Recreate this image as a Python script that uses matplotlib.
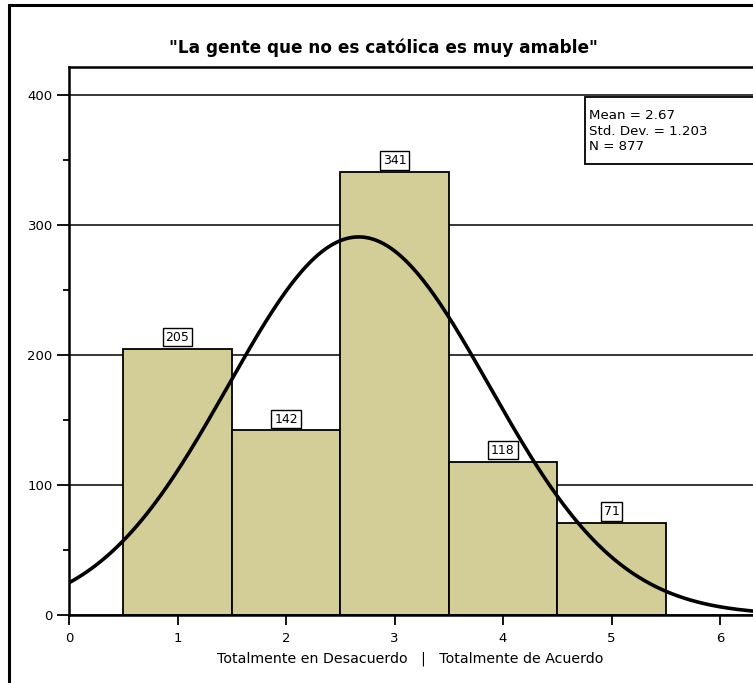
import numpy as np
import matplotlib
matplotlib.use("Agg")
import matplotlib.pyplot as plt
from matplotlib.patches import Rectangle
from matplotlib.ticker import MultipleLocator

categories = [1, 2, 3, 4, 5]
counts = [205, 142, 341, 118, 71]
mean_val = 2.67
std_val = 1.203
n_val = 877
title = '"La gente que no es católica es muy amable"'
xlabel = "Totalmente en Desacuerdo   |   Totalmente de Acuerdo"
stats_lines = [f"Mean = {mean_val}", f"Std. Dev. = {std_val}", f"N = {n_val}"]

plt.rcParams['font.family'] = ['DejaVu Sans']

W, H = 753, 683
fig = plt.figure(figsize=(W / 100, H / 100), dpi=100)

# outer frame
fig.patches.append(Rectangle((9 / W, -0.2), 2.0, 1.2 - 5 / H, transform=fig.transFigure,
                             fill=False, edgecolor='black', linewidth=2.2, zorder=0))

PX_X = 108.5   # pixels per x unit
PX_Y = 1.3     # pixels per y unit
X0, Y0 = 69, 615
ax_left = X0 / W
ax_bottom = 1 - Y0 / H
ax_height = (Y0 - 67) / H
xmax = 6.4
ax_width = xmax * PX_X / W
ax = fig.add_axes([ax_left, ax_bottom, ax_width, ax_height])
ax.set_xlim(0, xmax)
ax.set_ylim(0, (Y0 - 67) / PX_Y)

ax.bar(categories, counts, width=1.0, color='#D3CE98', edgecolor='black', linewidth=1.3, zorder=2)
for c, v in zip(categories, counts):
    ax.annotate(str(v), xy=(c, v), xytext=(0, 3.5), textcoords='offset points',
                ha='center', va='bottom', fontsize=9,
                bbox=dict(boxstyle='square,pad=0.22', facecolor='white', edgecolor='black', linewidth=1.0),
                zorder=4)

xs = np.linspace(0, xmax, 400)
ys = n_val * 1.0 / (std_val * np.sqrt(2 * np.pi)) * np.exp(-0.5 * ((xs - mean_val) / std_val) ** 2)
ax.plot(xs, ys, color='black', linewidth=2.6, zorder=3)

ax.yaxis.set_major_locator(MultipleLocator(100))
ax.yaxis.set_minor_locator(MultipleLocator(50))
ax.xaxis.set_major_locator(MultipleLocator(1))
ax.grid(axis='y', which='major', color='black', linewidth=1.1, zorder=1)
ax.set_axisbelow(True)
for s in ['left', 'bottom', 'top']:
    ax.spines[s].set_linewidth(1.8)
ax.spines['right'].set_visible(False)
ax.tick_params(axis='y', which='major', length=8.4, width=1.3, labelsize=9.5, pad=3.3)
ax.tick_params(axis='y', which='minor', length=4, width=1.3)
ax.tick_params(axis='x', which='major', length=7.2, width=1.3, labelsize=9.5, pad=5)

fig.text(410 / W, 1 - 662 / H, xlabel, ha='center', va='baseline', fontsize=10.2)
fig.text(383.5 / W, 1 - 53 / H, title, ha='center', va='baseline', fontsize=12.2, fontweight='bold')

# statistics box
bx0 = (585 - X0) / PX_X
by0 = (Y0 - 164) / PX_Y
by1 = (Y0 - 97) / PX_Y
ax.add_patch(Rectangle((bx0, by0), xmax - bx0 + 1, by1 - by0, facecolor='white',
                       edgecolor='black', linewidth=1.3, zorder=5, clip_on=False))
for line, base_px in zip(stats_lines, [119, 135, 150]):
    ax.text((589 - X0) / PX_X, (Y0 - base_px) / PX_Y, line, ha='left', va='baseline',
            fontsize=9.6, zorder=6)

fig.savefig('out.png', dpi=100)
